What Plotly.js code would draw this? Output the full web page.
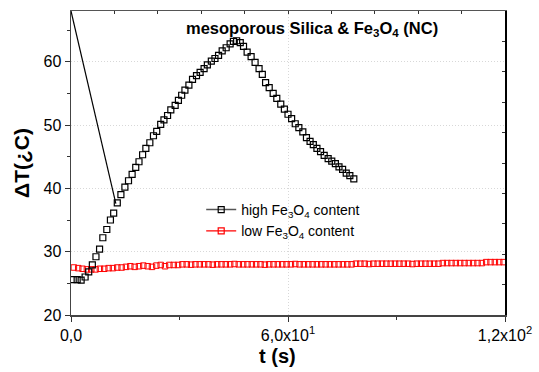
<!DOCTYPE html>
<html>
<head>
<meta charset="utf-8">
<script src="https://cdn.plot.ly/plotly-3.0.1.min.js"></script>
<style>html,body{margin:0;padding:0;background:#fff;}#chart{width:539px;height:372px;}</style>
</head>
<body>
<div id="chart"></div>
<script>
// High Fe3O4 content series
var highX = [0.6,1.7,2.8,3.9,4.9,5.9,6.9,7.9,8.8,9.9,10.9,11.8,12.8,13.8,14.9,15.9,16.9,17.9,18.8,19.8,
  20.7,21.8,22.8,23.7,24.8,25.7,26.7,27.6,28.8,29.7,30.6,31.5,32.6,33.6,34.7,35.7,36.8,37.7,38.8,39.8,
  40.8,41.8,42.9,44.0,44.9,45.8,46.8,47.7,48.7,49.8,50.9,52.0,52.9,53.8,54.8,55.9,56.9,58.0,59.0,60.0,
  61.0,62.0,63.0,64.1,65.1,66.1,67.0,68.0,69.0,70.0,71.1,72.1,73.1,74.1,75.1,76.1,77.1,78.2];
var highY = [25.6,25.6,25.5,26.0,26.8,27.9,29.2,30.4,32.2,33.5,35.0,36.1,37.7,39.0,40.2,41.2,42.2,43.3,44.2,45.3,
  46.3,47.2,48.3,49.0,50.1,50.8,51.5,52.4,53.1,53.9,54.7,55.5,56.3,57.2,57.8,58.3,58.9,59.5,60.1,60.5,
  61.0,61.7,62.2,62.8,63.2,63.3,63.0,62.4,61.5,60.8,59.9,58.9,58.0,56.7,55.9,55.0,54.2,53.3,52.5,51.7,
  51.0,50.2,49.6,48.9,48.0,47.4,46.9,46.3,45.8,45.2,44.7,44.3,43.9,43.4,43.0,42.4,42.0,41.5];

// Low Fe3O4 content series
var lowX = [0.8,2.0,3.2,4.4,5.6,6.8,8.0,9.2,10.4,11.6,12.8,14.0,15.2,16.4,17.6,18.8,20.0,21.2,22.4,23.6,
  24.8,26.0,27.2,28.4,29.6,30.8,32.0,33.2,34.4,35.6,36.8,38.0,39.2,40.4,41.6,42.8,44.0,45.2,46.4,47.6,
  48.8,50.0,51.2,52.4,53.6,54.8,56.0,57.2,58.4,59.6,60.8,62.0,63.2,64.4,65.6,66.8,68.0,69.2,70.4,71.6,
  72.8,74.0,75.2,76.4,77.6,78.8,80.0,81.2,82.4,83.6,84.8,86.0,87.2,88.4,89.6,90.8,92.0,93.2,94.4,95.6,
  96.8,98.0,99.2,100.4,101.6,102.8,104.0,105.2,106.4,107.6,108.8,110.0,111.2,112.4,113.6,114.8,116.0,117.2,118.4,119.6];
var lowY = [27.5,27.4,27.3,27.2,27.2,27.2,27.3,27.3,27.4,27.4,27.5,27.5,27.6,27.7,27.6,27.7,27.8,27.7,27.6,27.8,
  27.9,27.7,27.9,27.9,27.9,28.0,28.0,27.95,28.0,28.0,28.0,28.0,27.95,28.0,28.0,28.0,28.0,28.05,28.0,28.0,
  28.0,28.0,28.0,28.0,27.95,28.0,28.0,28.0,28.0,28.0,28.0,28.05,28.0,28.0,28.0,28.0,28.0,28.0,28.0,28.0,
  28.0,28.0,28.0,28.0,28.0,28.1,28.1,28.1,28.05,28.1,28.1,28.1,28.1,28.1,28.1,28.1,28.1,28.1,28.05,28.1,
  28.1,28.1,28.1,28.1,28.1,28.2,28.2,28.2,28.2,28.2,28.2,28.2,28.2,28.2,28.2,28.35,28.35,28.35,28.35,28.35];

// Stray connecting segment
var strayX = [0, 12.4];
var strayY = [68, 37.6];

var xTickVals = [0, 60, 120];
var xTickText = ['0,0', '6,0x10<sup>1</sup>', '1,2x10<sup>2</sup>'];

var legendNames = ['high Fe<sub>3</sub>O<sub>4</sub> content', 'low Fe<sub>3</sub>O<sub>4</sub> content'];

var FONT = 'Liberation Sans, Arial, sans-serif';

var traces = [
  {x: strayX, y: strayY, mode: 'lines', line: {color: '#000', width: 1.2}, showlegend: false, hoverinfo: 'skip'},
  {x: lowX, y: lowY, mode: 'markers', marker: {symbol: 'square-open', size: 5.5, color: '#ff0000', line: {width: 1}}, showlegend: false},
  {x: highX, y: highY, mode: 'markers', marker: {symbol: 'square-open', size: 6, color: '#000', line: {width: 1.2}}, showlegend: false},
  {x: [null], y: [null], mode: 'lines+markers', name: legendNames[0], line: {color: '#555', width: 1.5},
   marker: {symbol: 'square-open', size: 6, color: '#000', line: {width: 1.2}}},
  {x: [null], y: [null], mode: 'lines+markers', name: legendNames[1], line: {color: '#ff0000', width: 1.2},
   marker: {symbol: 'square-open', size: 6, color: '#ff0000', line: {width: 1.2}}},
  {x: [null], y: [null], xaxis: 'x2', yaxis: 'y2', mode: 'markers', showlegend: false, hoverinfo: 'skip'}
];

var layout = {
  width: 539, height: 372,
  margin: {l: 71, r: 34, t: 11, b: 57},
  paper_bgcolor: '#fff', plot_bgcolor: '#fff',
  font: {family: FONT, color: '#000'},
  showlegend: true,
  legend: {x: 0.3, y: 0.398, xanchor: 'left', yanchor: 'top', bgcolor: 'rgba(0,0,0,0)',
           font: {family: FONT, size: 14, color: '#000'}, tracegroupgap: 0},
  xaxis: {
    range: [0, 120], tickvals: xTickVals, ticktext: xTickText,
    ticks: 'outside', ticklen: 5, tickwidth: 1, tickcolor: '#333',
    minor: {dtick: 30, tick0: 0, ticks: 'outside', ticklen: 3, tickcolor: '#333', showgrid: false},
    showline: true, linecolor: '#444', linewidth: 1.5,
    showgrid: true, gridcolor: '#d8d8d8', griddash: '1px,2px', gridwidth: 1,
    zeroline: false,
    tickfont: {family: FONT, size: 16, color: '#000'}
  },
  yaxis: {
    range: [20, 68], dtick: 10, tick0: 20,
    ticks: 'outside', ticklen: 5, tickwidth: 1, tickcolor: '#333',
    minor: {dtick: 5, tick0: 20, ticks: 'outside', ticklen: 3, tickcolor: '#333', showgrid: false},
    showline: true, linecolor: '#444', linewidth: 1.5,
    showgrid: true, gridcolor: '#d8d8d8', griddash: '1px,2px', gridwidth: 1,
    zeroline: false,
    tickfont: {family: FONT, size: 16, color: '#000'},
    title: {text: '<b>ΔT(¿C)</b>', font: {family: FONT, size: 21, color: '#000'}, standoff: 8}
  },
  xaxis2: {
    overlaying: 'x', side: 'top', range: [0, 10], dtick: 1, tick0: 0,
    ticks: 'inside', ticklen: 3, tickcolor: '#333', showticklabels: false,
    showline: true, linecolor: '#555', linewidth: 1.5, showgrid: false, zeroline: false
  },
  yaxis2: {
    overlaying: 'y', side: 'right', range: [0, 10], dtick: 1, tick0: 0,
    ticks: 'inside', ticklen: 3, tickcolor: '#333', showticklabels: false,
    showline: true, linecolor: '#000', linewidth: 1.5, showgrid: false, zeroline: false
  },
  annotations: [{
    xref: 'paper', yref: 'paper', x: 0.555, y: 0.94, xanchor: 'center', yanchor: 'middle',
    text: '<b>mesoporous Silica &amp; Fe<sub>3</sub>O<sub>4</sub> (NC)</b>', showarrow: false,
    font: {family: FONT, size: 16.5, color: '#000'}
  }, {
    xref: 'paper', yref: 'paper', x: 0.475, y: -0.135, xanchor: 'center', yanchor: 'middle',
    text: '<b>t (s)</b>', showarrow: false,
    font: {family: FONT, size: 20, color: '#000'}
  }]
};

Plotly.newPlot('chart', traces, layout, {displayModeBar: false, staticPlot: true});
</script>
</body>
</html>
